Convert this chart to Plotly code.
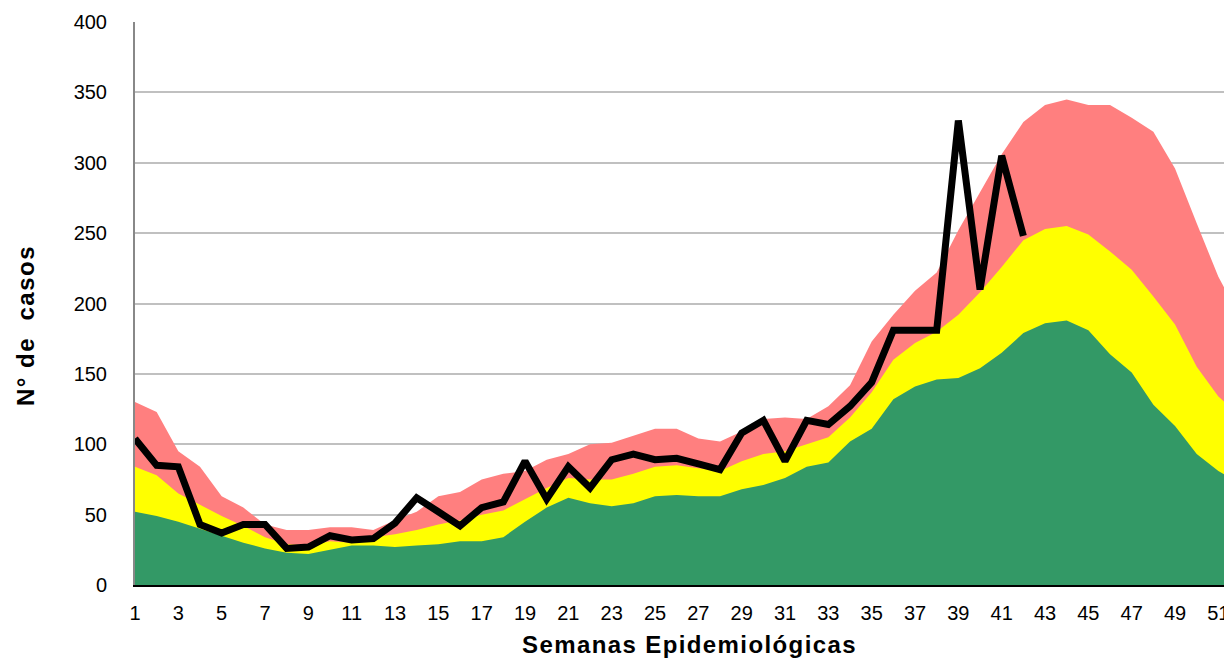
import plotly.graph_objects as go

# Semanas epidemiologicas
semanas = list(range(1, 53))

# Zona de exito (verde), seguridad (amarillo), alarma (rojo)
zona_exito = [52, 49, 45, 40, 35, 30, 26, 23, 22, 25, 28, 28, 27, 28, 29, 31, 31, 34, 45, 55,
              62, 58, 56, 58, 63, 64, 63, 63, 68, 71, 76, 84, 87, 102, 111, 132, 141, 146, 147, 154,
              165, 179, 186, 188, 181, 164, 151, 128, 113, 93, 81, 72]
zona_seguridad = [84, 78, 65, 57, 49, 42, 34, 29, 28, 31, 30, 34, 36, 39, 43, 46, 50, 53, 61, 69,
                  76, 75, 75, 79, 84, 85, 83, 81, 88, 93, 95, 100, 105, 119, 137, 160, 172, 180, 192, 208,
                  226, 245, 253, 255, 249, 237, 224, 205, 185, 155, 134, 120]
zona_alarma = [130, 123, 95, 84, 63, 55, 43, 39, 39, 41, 41, 39, 46, 52, 63, 66, 75, 79, 81, 89,
               93, 100, 101, 106, 111, 111, 104, 102, 109, 118, 119, 118, 127, 142, 173, 192, 209, 222, 252, 279,
               306, 329, 341, 345, 341, 341, 332, 322, 296, 257, 219, 190]

# Casos observados hasta la semana 42
semanas_casos = list(range(1, 43))
casos = [104, 85, 84, 43, 37, 43, 43, 26, 27, 35, 32, 33, 44, 62, 52, 42, 55, 59, 88, 61,
         84, 69, 89, 93, 89, 90, 86, 82, 108, 117, 88, 117, 114, 127, 144, 181, 181, 181, 330, 210,
         305, 248]

fig = go.Figure()

fig.add_trace(go.Scatter(x=semanas, y=zona_alarma, mode='lines', line=dict(width=0),
                         fill='tozeroy', fillcolor='#FF7F7F', name='Alarma'))
fig.add_trace(go.Scatter(x=semanas, y=zona_seguridad, mode='lines', line=dict(width=0),
                         fill='tozeroy', fillcolor='#FFFF00', name='Seguridad'))
fig.add_trace(go.Scatter(x=semanas, y=zona_exito, mode='lines', line=dict(width=0),
                         fill='tozeroy', fillcolor='#339966', name='Exito'))
fig.add_trace(go.Scatter(x=semanas_casos, y=casos, mode='lines',
                         line=dict(color='black', width=7), name='Casos'))

fig.update_layout(
    width=1224,
    height=662,
    margin=dict(l=135, r=0, t=22, b=77, autoexpand=False),
    plot_bgcolor='white',
    paper_bgcolor='white',
    showlegend=False,
    font=dict(family='Liberation Sans, Arial, sans-serif', size=20, color='black'),
    xaxis=dict(
        range=[1, 51.26],
        tickmode='linear', tick0=1, dtick=2,
        showgrid=False,
        showline=True, linecolor='black', linewidth=2,
        ticks='', ticklabelstandoff=9, ticklabeloverflow='allow',
        automargin=False,
    ),
    yaxis=dict(
        range=[0, 400],
        tickmode='linear', tick0=0, dtick=50,
        showgrid=True, gridcolor='#C0C0C0', gridwidth=2,
        zeroline=False,
        showline=True, linecolor='#888888', linewidth=2,
        ticks='', ticklabelstandoff=22,
        automargin=False,
    ),
    annotations=[
        dict(text='<b><span style="letter-spacing:1.4px">Semanas Epidemiológicas</span></b>',
             xref='paper', yref='paper',
             x=(689 - 135) / 1089, y=-(644 - 585) / 563, showarrow=False,
             font=dict(size=24), xanchor='center', yanchor='middle'),
        dict(text='<b><span style="letter-spacing:1.5px">N° de  casos</span></b>',
             xref='paper', yref='paper',
             x=-(135 - 25) / 1089, y=(585 - 326) / 563, showarrow=False, textangle=-90,
             font=dict(size=24), xanchor='center', yanchor='middle'),
    ],
)

fig.write_html('out.html', config={'displayModeBar': False},
               post_script="document.body.style.margin='0px';")
